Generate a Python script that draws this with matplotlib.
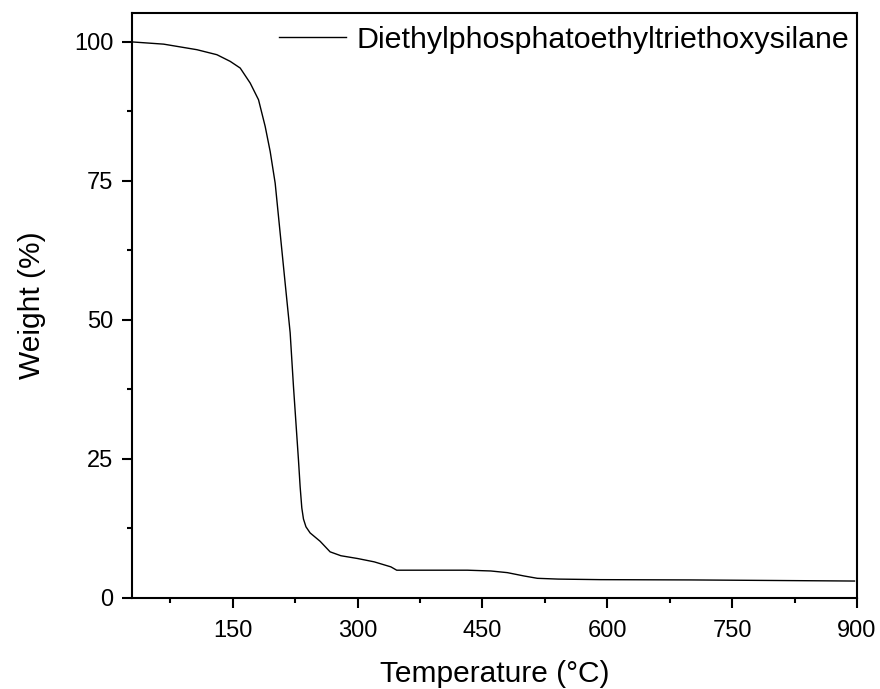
import matplotlib
matplotlib.use("Agg")
import matplotlib.pyplot as plt
from matplotlib.ticker import MultipleLocator

plt.rcParams['font.family'] = ['Liberation Sans', 'DejaVu Sans']

# TGA curve
temp = [29, 67, 107, 131, 147, 159, 171, 181, 189, 195, 201, 207, 213, 219,
        223, 229, 231, 233, 235, 238, 243, 255, 267, 280, 300, 320, 340, 347,
        360, 400, 432, 460, 480, 500, 516, 541, 592, 700, 800, 897]
weight = [100, 99.6, 98.6, 97.7, 96.5, 95.3, 92.6, 89.6, 84.8, 80.3, 74.6,
          65.6, 56.6, 47.7, 38.0, 24.8, 20.0, 16.2, 14.2, 12.8, 11.7, 10.2, 8.3,
          7.6, 7.1, 6.5, 5.6, 5.0, 5.0, 5.0, 5.0, 4.86, 4.56, 3.96, 3.54, 3.4,
          3.3, 3.25, 3.15, 3.05]
label = "Diethylphosphatoethyltriethoxysilane"

fig = plt.figure(figsize=(8.8, 6.89), dpi=100)
ax = fig.add_axes([132/880, 1 - 598/689, (857-132)/880, (598-13)/689])

ax.plot(temp, weight, color="black", lw=1.0, label=label)

ax.set_xlim(29, 900)
ax.set_ylim(0, 105.2)
ax.xaxis.set_major_locator(MultipleLocator(150))
ax.xaxis.set_minor_locator(MultipleLocator(75))
ax.yaxis.set_major_locator(MultipleLocator(25))
ax.yaxis.set_minor_locator(MultipleLocator(12.5))

for s in ax.spines.values():
    s.set_linewidth(1.5)
ax.tick_params(which="both", direction="out", width=1.5, top=False, right=False)
ax.tick_params(which="major", length=7.5, labelsize=17)
ax.tick_params(axis="x", which="major", pad=8)
ax.tick_params(axis="y", which="major", pad=6)
ax.tick_params(which="minor", length=3.8)

ax.set_xlabel("Temperature (°C)", fontsize=21.5, labelpad=13)
ax.set_ylabel("Weight (%)", fontsize=21.5, labelpad=20)

ax.legend(loc="center right", bbox_to_anchor=(849/880, 1 - 40/689),
          bbox_transform=fig.transFigure, frameon=False, fontsize=21.9,
          handlelength=2.2, handletextpad=0.35, borderpad=0, borderaxespad=0)

fig.savefig("out.png", dpi=100)
